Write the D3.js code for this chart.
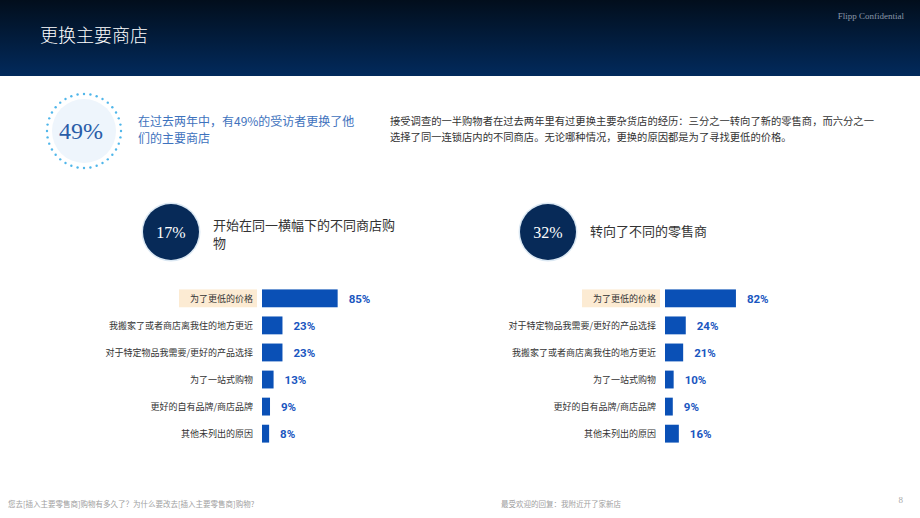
<!DOCTYPE html>
<html><head><meta charset="utf-8">
<script src="https://cdn.jsdelivr.net/npm/d3@7"></script>
<style>
html,body{margin:0;padding:0;background:#fff;}
svg{display:block;}
</style></head>
<body>
<svg id="chart" width="920" height="518"></svg>
<script>
// ---- data ----
const leftCategories = ["为了更低的价格","我搬家了或者商店离我住的地方更近","对于特定物品我需要/更好的产品选择","为了一站式购物","更好的自有品牌/商店品牌","其他未列出的原因"];
const leftValues = [85,23,23,13,9,8];
const rightCategories = ["为了更低的价格","对于特定物品我需要/更好的产品选择","我搬家了或者商店离我住的地方更近","为了一站式购物","更好的自有品牌/商店品牌","其他未列出的原因"];
const rightValues = [82,24,21,10,9,16];
const headline = 49, leftShare = 17, rightShare = 32;

const CJK = "'Noto Sans CJK SC','Noto Sans',sans-serif";
const SERIF = "'Liberation Serif','DejaVu Serif',serif";
const svg = d3.select("#chart");
const defs = svg.append("defs");

// header
const g = defs.append("linearGradient").attr("id","hdr").attr("x1",0).attr("y1",0).attr("x2",0).attr("y2",1);
g.append("stop").attr("offset","0%").attr("stop-color","#020e1c");
g.append("stop").attr("offset","100%").attr("stop-color","#022a5c");
svg.append("rect").attr("x",0).attr("y",0).attr("width",920).attr("height",76).attr("fill","url(#hdr)");
svg.append("text").attr("x",40).attr("y",42).attr("fill","#fff").attr("font-family",CJK).attr("font-size",18).attr("font-weight",300).text("更换主要商店");
svg.append("text").attr("x",904).attr("y",19).attr("text-anchor","end").attr("fill","#8a97a8").attr("font-family",SERIF).attr("font-size",9).text("Flipp Confidential");

// headline circle
svg.append("circle").attr("cx",84).attr("cy",131).attr("r",32).attr("fill","#eef5fc");
const nd = 36;
svg.selectAll("circle.dot").data(d3.range(nd)).join("circle").attr("class","dot")
  .attr("cx",i=>84+37*Math.cos(i/nd*2*Math.PI)).attr("cy",i=>131+37*Math.sin(i/nd*2*Math.PI))
  .attr("r",1.2).attr("fill","#4fb6ea");
svg.append("text").attr("x",81).attr("y",139).attr("text-anchor","middle").attr("fill","#2a5da8")
  .attr("font-family",SERIF).attr("font-size",24).text(headline+"%");
const hl = svg.append("text").attr("font-family",CJK).attr("font-size",12).attr("fill","#3e72bd");
hl.append("tspan").attr("x",138).attr("y",126).text("在过去两年中，有"+headline+"%的受访者更换了他");
hl.append("tspan").attr("x",138).attr("y",143).text("们的主要商店");

const para = svg.append("text").attr("font-family",CJK).attr("font-size",10.3).attr("fill","#333");
para.append("tspan").attr("x",390).attr("y",125).text("接受调查的一半购物者在过去两年里有过更换主要杂货店的经历：三分之一转向了新的零售商，而六分之一");
para.append("tspan").attr("x",390).attr("y",141).text("选择了同一连锁店内的不同商店。无论哪种情况，更换的原因都是为了寻找更低的价格。");

// share circles
function shareCircle(cx, cy, val, lines){
  svg.append("circle").attr("cx",cx).attr("cy",cy).attr("r",29.5).attr("fill","#dbe8f3");
  svg.append("circle").attr("cx",cx).attr("cy",cy).attr("r",28).attr("fill","#072a58");
  svg.append("text").attr("x",cx).attr("y",cy+6).attr("text-anchor","middle").attr("fill","#fff")
    .attr("font-family",SERIF).attr("font-size",16).text(val+"%");
  const t = svg.append("text").attr("font-family",CJK).attr("font-size",13).attr("fill","#333");
  lines.forEach((l,i)=>t.append("tspan").attr("x",cx+42).attr("y",(lines.length>1?cy-2:cy+4)+i*18).text(l));
}
shareCircle(171,232,leftShare,["开始在同一横幅下的不同商店购","物"]);
shareCircle(548,232,rightShare,["转向了不同的零售商"]);

// bar charts
function barChart(x0, pxPerPct, cats, vals){
  const y = d3.scaleBand().domain(cats).range([284,448]).paddingInner(0.34).paddingOuter(0.2);
  const x = d3.scaleLinear().domain([0,100]).range([x0, x0+pxPerPct*100]);
  const gg = svg.append("g");
  // highlight behind first label
  gg.append("rect").attr("x",x0-83).attr("y",y(cats[0])).attr("width",78).attr("height",y.bandwidth())
    .attr("fill","#fcebd3");
  gg.selectAll("rect.bar").data(vals).join("rect").attr("class","bar")
    .attr("x",x(0)).attr("y",(d,i)=>y(cats[i])).attr("width",d=>x(d)-x(0)).attr("height",y.bandwidth())
    .attr("fill","#0a50b6");
  gg.selectAll("text.cat").data(cats).join("text").attr("class","cat")
    .attr("x",x0-9).attr("y",d=>y(d)+y.bandwidth()/2+3.2).attr("text-anchor","end")
    .attr("font-family",CJK).attr("font-size",9).attr("fill","#333").text(d=>d);
  gg.selectAll("text.val").data(vals).join("text").attr("class","val")
    .attr("x",d=>x(d)+11).attr("y",(d,i)=>y(cats[i])+y.bandwidth()/2+4.5)
    .attr("font-family","Roboto,'Open Sans',sans-serif").attr("font-weight",700).attr("font-size",11.5)
    .attr("fill","#1a56c0").text(d=>d+"%");
}
barChart(262, 0.89, leftCategories, leftValues);
barChart(665, 0.865, rightCategories, rightValues);

// footer
svg.append("text").attr("x",8).attr("y",507).attr("font-family",CJK).attr("font-size",7.5).attr("fill","#a0a0a0")
  .text("您去[插入主要零售商]购物有多久了？为什么要改去[插入主要零售商]购物?");
svg.append("text").attr("x",501).attr("y",507).attr("font-family",CJK).attr("font-size",7.5).attr("fill","#a0a0a0")
  .text("最受欢迎的回复：我附近开了家新店");
svg.append("text").attr("x",903).attr("y",503).attr("text-anchor","end").attr("font-family",SERIF).attr("font-size",9).attr("fill","#aaa").text("8");
</script>
</body></html>
